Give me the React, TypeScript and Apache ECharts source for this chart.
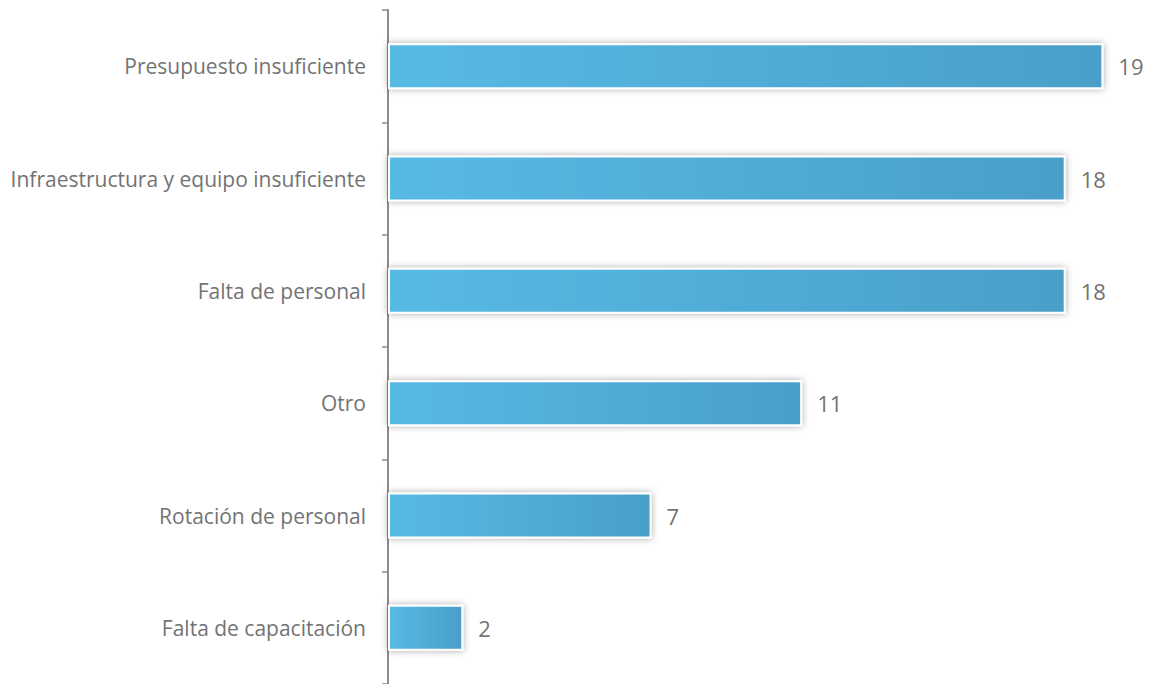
import React, { useEffect, useRef } from "react";
import * as echarts from "echarts";

const categories = [
  "Presupuesto insuficiente",
  "Infraestructura y equipo insuficiente",
  "Falta de personal",
  "Otro",
  "Rotación de personal",
  "Falta de capacitación",
];
const values = [19, 18, 18, 11, 7, 2];

export default function App() {
  const ref = useRef<HTMLDivElement>(null);
  useEffect(() => {
    const chart = echarts.init(ref.current!, null, { renderer: "svg" });
    chart.setOption({
      animation: false,
      backgroundColor: "#ffffff",
      grid: { left: 388, top: 10, width: 753, height: 676, containLabel: false },
      xAxis: {
        type: "value",
        min: 0,
        max: 20,
        show: false,
      },
      yAxis: {
        type: "category",
        data: categories,
        inverse: true,
        axisLine: { show: true, lineStyle: { color: "#8c8c8c", width: 2 } },
        axisTick: { show: true, length: 6, lineStyle: { color: "#8c8c8c", width: 1.5 } },
        axisLabel: {
          color: "#737373",
          fontFamily: "Open Sans",
          fontSize: 21,
          margin: 22,
        },
      },
      series: [
        {
          type: "bar",
          data: values,
          barWidth: 46,
          itemStyle: {
            color: new echarts.graphic.LinearGradient(0, 0, 1, 0, [
              { offset: 0, color: "#57BAE5" },
              { offset: 1, color: "#4A9FC9" },
            ]),
            borderColor: "#ffffff",
            borderWidth: 2,
            shadowColor: "rgba(0,0,0,0.35)",
            shadowBlur: 7,
            shadowOffsetX: 0,
            shadowOffsetY: 0,
          },
          label: {
            show: true,
            position: "right",
            distance: 15,
            color: "#737373",
            fontFamily: "Open Sans",
            fontSize: 22,
          },
        },
      ],
    });
    return () => chart.dispose();
  }, []);
  return (
    <div
      ref={ref}
      style={{ position: "fixed", left: 0, top: 0, width: 1151, height: 684 }}
    />
  );
}
